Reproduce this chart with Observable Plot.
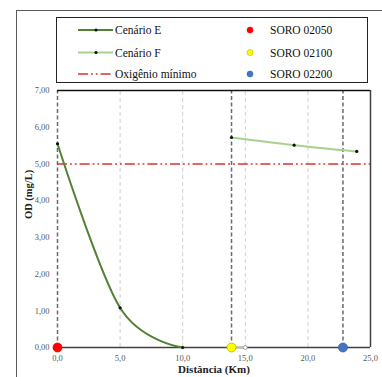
<!DOCTYPE html>
<html>
<head>
<meta charset="utf-8">
<script src="https://cdn.jsdelivr.net/npm/d3@7"></script>
<script src="https://cdn.jsdelivr.net/npm/@observablehq/plot@0.6"></script>
<style>
  html, body { margin: 0; padding: 0; background: #fff; }
  #wrap { position: relative; width: 382px; height: 377px; overflow: hidden; font-family: "Liberation Serif", Tinos, "Times New Roman", "DejaVu Serif", serif; }
  #outer { position: absolute; left: 16px; top: 10px; width: 420px; height: 420px; border: 1px solid #595959; box-sizing: border-box; }
  #chart { position: absolute; left: 0; top: 0; }
  #legend { position: absolute; left: 56px; top: 17px; width: 312px; height: 66px; border: 1.3px solid #222; box-sizing: border-box; background: #fff; }
  #legend svg { position: absolute; left: 0; top: 0; }
  svg text { font-family: "Liberation Serif", Tinos, "Times New Roman", "DejaVu Serif", serif !important; }
</style>
</head>
<body>
<div id="wrap">
  <div id="outer"></div>
  <div id="chart"></div>
  <div id="legend"></div>
</div>
<script>
// ---- data ----
const distE = [0, 5, 10];
const odE = [5.55, 1.08, 0];
const distF = [13.9, 18.9, 23.9];
const odF = [5.72, 5.51, 5.34];
const tailDist = [13.9, 15];
const tailOD = [0, 0];
const stationNames = ["SORO 02050", "SORO 02100", "SORO 02200"];
const stationDist = [0, 13.9, 22.8];
const stationColors = ["#ff0000", "#ffff00", "#4472c4"];
const stationStroke = ["#ff0000", "#b5b500", "#3a62aa"];
const oxMin = 5;
const xTicks = [0, 5, 10, 15, 20, 25];
const yTicks = [0, 1, 2, 3, 4, 5, 6, 7];
const gridX = [5, 10, 15, 20];
const seriesNames = ["Cenário E", "Cenário F", "Oxigênio mínimo"];
const seriesColors = ["#548235", "#a9d18e", "#e0302a"];

const E = distE.map((d, i) => ({x: d, y: odE[i]}));
const F = distF.map((d, i) => ({x: d, y: odF[i]}));
const tail = tailDist.map((d, i) => ({x: d, y: tailOD[i]}));
const stations = stationNames.map((n, i) => ({name: n, x: stationDist[i], y: 0, fill: stationColors[i], stroke: stationStroke[i]}));

const comma = (f) => (v) => f(v).replace(".", ",");
const FONT = '"Liberation Serif", Tinos, "Times New Roman", "DejaVu Serif", serif';

const plot = Plot.plot({
  width: 382,
  height: 377,
  marginLeft: 57,
  marginRight: 12,
  marginTop: 90,
  marginBottom: 30,
  style: {fontFamily: FONT, background: "transparent"},
  x: {domain: [0, 25]},
  y: {domain: [0, 7]},
  marks: [
    Plot.ruleX(gridX, {y1: 0, y2: 7, stroke: "#cfcfcf", strokeWidth: 1, strokeDasharray: "4,3"}),
    Plot.ruleX(stationDist, {y1: 0, y2: 7, stroke: "#6a6a6a", strokeWidth: 1.5, strokeDasharray: "4,2.5"}),
    Plot.ruleY([oxMin], {x1: 0, x2: 25, stroke: seriesColors[2], strokeWidth: 1.5, strokeDasharray: "10,3,1.8,3,1.8,3"}),
    Plot.ruleY([7], {x1: 0, x2: 25, stroke: "#111", strokeWidth: 1.5}),
    Plot.ruleX([25], {y1: 0, y2: 7, stroke: "#404040", strokeWidth: 1.5}),
    Plot.ruleY([0], {x1: 0, x2: 25, stroke: "#404040", strokeWidth: 1.5}),
    Plot.axisY({ticks: yTicks, tickSize: 0, tickPadding: 8, tickFormat: comma(d3.format(".2f")), fontSize: 8.5, color: "#595959", label: null}),
    Plot.axisX({ticks: xTicks, tickSize: 0, tickPadding: 7, tickFormat: comma(d3.format(".1f")), fontSize: 8.5, color: "#595959", label: null}),
    Plot.line(E, {x: "x", y: "y", stroke: seriesColors[0], strokeWidth: 2, curve: "cardinal"}),
    Plot.dot(E, {x: "x", y: "y", r: 1.6, fill: "#111"}),
    Plot.line(F, {x: "x", y: "y", stroke: seriesColors[1], strokeWidth: 2, curve: "cardinal"}),
    Plot.dot(F, {x: "x", y: "y", r: 1.6, fill: "#111"}),
    Plot.line(tail, {x: "x", y: "y", stroke: seriesColors[1], strokeWidth: 1.5}),
    Plot.dot(tail.slice(1), {x: "x", y: "y", r: 2, fill: "#fff", stroke: "#888", strokeWidth: 0.8}),
    Plot.dot(stations, {x: "x", y: "y", r: 4.5, fill: "fill", stroke: "stroke", strokeWidth: 0.8}),
    Plot.text(["OD (mg/L)"], {text: d => d, frameAnchor: "left", dx: -29, rotate: -90, fontSize: 10.5, fontWeight: "bold", fill: "#222"}),
    Plot.text(["Distância (Km)"], {text: d => d, frameAnchor: "bottom", dy: 25, fontSize: 11, fontWeight: "bold", fill: "#222"})
  ]
});
document.getElementById("chart").appendChild(plot);

// ---- legend ----
const lg = d3.select("#legend").append("svg").attr("width", 312).attr("height", 66)
  .style("font-family", FONT).style("font-size", "11.5px");
const rowsY = [12, 34.5, 56];
[0, 1].forEach(i => {
  lg.append("line").attr("x1", 21).attr("x2", 56).attr("y1", rowsY[i]).attr("y2", rowsY[i])
    .attr("stroke", seriesColors[i]).attr("stroke-width", 2);
  lg.append("circle").attr("cx", 39).attr("cy", rowsY[i]).attr("r", 1.6).attr("fill", "#111");
});
lg.append("line").attr("x1", 21).attr("x2", 56).attr("y1", rowsY[2]).attr("y2", rowsY[2])
  .attr("stroke", seriesColors[2]).attr("stroke-width", 1.5).attr("stroke-dasharray", "10,3,1.8,3,1.8,3");
seriesNames.forEach((n, i) => {
  lg.append("text").attr("x", 58).attr("y", rowsY[i]).attr("dy", "0.35em").attr("fill", "#111").text(n);
});
stations.forEach((s, i) => {
  lg.append("circle").attr("cx", 193).attr("cy", rowsY[i]).attr("r", 3).attr("fill", s.fill).attr("stroke", s.stroke).attr("stroke-width", 0.6);
  lg.append("text").attr("x", 213).attr("y", rowsY[i]).attr("dy", "0.35em").attr("fill", "#111").text(s.name);
});
</script>
</body>
</html>
